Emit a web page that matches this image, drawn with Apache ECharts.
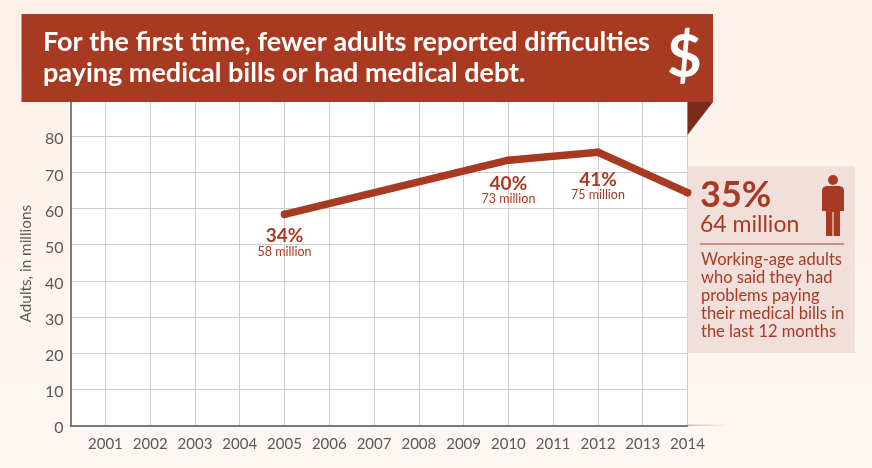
<!DOCTYPE html>
<html><head><meta charset="utf-8">
<style>html,body{margin:0;padding:0;background:#fdf3ee}#c{width:872px;height:468px}</style>
<script src="https://cdn.jsdelivr.net/npm/echarts@6/dist/echarts.min.js"></script>
</head><body><div id="c"></div>
<script>
const years = [2001,2002,2003,2004,2005,2006,2007,2008,2009,2010,2011,2012,2013,2014];
const yTicks = [0,10,20,30,40,50,60,70,80];
const surveyYears = [2005,2010,2012,2014];
const adultsMillions = [58.4,73.4,75.6,64.4];
const percentLabels = ['34%','40%','41%',''];
const millionLabels = ['58 million','73 million','75 million',''];
const titleLines = ['For the first time, fewer adults reported difficulties','paying medical bills or had medical debt.'];
const calloutLines = ['Working-age adults','who said they had','problems paying','their medical bills in','the last 12 months'];
const labelGaps = [8.5,10.5,14.5,0];
const RED='#a93a22', F='Lato, "Noto Sans", sans-serif';
const txt=(x,y,t,size,fill,weight,extra)=>({type:'text',x,y,z:20,style:Object.assign({text:t,font:`${weight||400} ${size}px ${F}`,fill,textVerticalAlign:'middle',textAlign:'left'},extra||{})});
const chart=echarts.init(document.getElementById('c'),null,{renderer:'canvas'});
chart.setOption({
 animation:false,
 backgroundColor:{type:'linear',x:0,y:0,x2:0,y2:1,colorStops:[{offset:0,color:'#fdf0e9'},{offset:1,color:'#fdf7f3'}]},
 grid:{left:70.5,right:184.5,top:102,bottom:42.7,show:true,backgroundColor:'#fff',borderWidth:0},
 xAxis:{type:'value',min:2000.22,max:2014,
  axisLine:{show:true,onZero:false,lineStyle:{color:'#555',width:1.5}},
  axisTick:{show:false,customValues:years},
  splitLine:{show:true,lineStyle:{color:'#cfcdcd',width:1}},
  axisLabel:{customValues:years,color:'#5a5a5a',fontFamily:F,fontSize:15,margin:11,formatter:v=>String(v),hideOverlap:false,showMinLabel:true,showMaxLabel:true}},
 yAxis:{type:'value',min:0,max:89.5,name:'Adults, in millions',nameLocation:'middle',nameGap:34,
  nameTextStyle:{color:'#5a5a5a',fontFamily:F,fontSize:15.3},
  axisLine:{show:true,onZero:false,lineStyle:{color:'#555',width:1.5}},
  axisTick:{show:false,customValues:yTicks},
  splitLine:{show:true,lineStyle:{color:'#cfcdcd',width:1}},
  axisLabel:{customValues:yTicks,color:'#5a5a5a',fontFamily:F,fontSize:16,margin:7,verticalAlign:'top',lineHeight:6,hideOverlap:false,showMinLabel:true}},
 series:[{type:'line',data:surveyYears.map((y,i)=>({value:[y,adultsMillions[i]],label:{distance:labelGaps[i]}})),
  symbol:'circle',symbolSize:7.5,showAllSymbol:true,itemStyle:{color:RED},clip:false,z:5,
  lineStyle:{color:RED,width:7.5,cap:'round',join:'round'},
  label:{show:true,position:'bottom',formatter:p=>percentLabels[p.dataIndex]?`{a|${percentLabels[p.dataIndex]}}\n{b|${millionLabels[p.dataIndex]}}`:'',
   rich:{a:{fontFamily:F,fontSize:19,fontWeight:700,color:RED,lineHeight:18,align:'center'},b:{fontFamily:F,fontSize:12.5,color:RED,lineHeight:14,align:'center'}}}}],
 graphic:[
  {type:'rect',shape:{x:21.5,y:14,width:691.5,height:88},style:{fill:RED},z:10},
  {type:'polygon',shape:{points:[[687.5,102],[713,102],[687.5,135]]},style:{fill:'#7c2a19'},z:10},
  txt(43,42,titleLines[0],27,'#fff',700),
  txt(43,73,titleLines[1],27,'#fff',700),
  txt(667,58,'$',60,'#fff',700),
  {type:'rect',shape:{x:687.7,y:166,width:167.3,height:187},style:{fill:'#f1dfdb'},z:4},
  txt(700,195,'35%',36,RED,700),
  txt(700,225,'64 million',23,RED,400),
  {type:'line',shape:{x1:700,y1:244,x2:844,y2:244},style:{stroke:RED,lineWidth:1},z:20},
  ...calloutLines.map((t,i)=>txt(701,260+18*i,t,16.5,RED,400)),
  {type:'circle',shape:{cx:833,cy:180,r:5},style:{fill:RED},z:20},
  {type:'polygon',shape:{points:[[822,211],[822,190],[823,187.5],[826,186],[840,186],[843,187.5],[844,190],[844,211],[840,211],[840,236],[833.6,236],[833.6,212],[832.4,212],[832.4,236],[826,236],[826,211]]},style:{fill:RED},z:20},
  {type:'line',shape:{x1:688,y1:425.3,x2:726,y2:425.3},style:{lineWidth:1.5,stroke:{type:'linear',x:0,y:0,x2:1,y2:0,colorStops:[{offset:0,color:'rgba(85,85,85,0.35)'},{offset:1,color:'rgba(85,85,85,0)'}]}},z:3}
 ]
});
</script></body></html>
